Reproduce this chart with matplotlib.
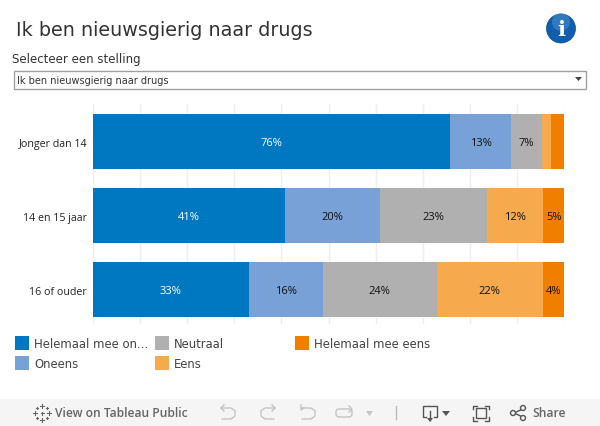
import matplotlib
matplotlib.use('Agg')
import matplotlib.pyplot as plt
import numpy as np
from matplotlib.patches import Rectangle, Circle, FancyBboxPatch

categories = ['Jonger dan 14', '14 en 15 jaar', '16 of ouder']
series_names = ['Helemaal mee on...', 'Oneens', 'Neutraal', 'Eens', 'Helemaal mee eens']
colors = ['#0078c1', '#78a2d7', '#b0b0b0', '#f7a94d', '#f07f00']
oneens_sterk = [75.8, 40.8, 33.1]
oneens = [13.0, 20.2, 15.7]
neutraal = [6.6, 22.7, 24.2]
eens = [1.9, 11.9, 22.5]
sterk_eens = [2.7, 4.6, 4.4]
grid_ticks = [0, 10, 20, 30, 40, 50, 60, 70, 80, 90, 100]

W, H = 600, 427
fig = plt.figure(figsize=(W / 100, H / 100), dpi=100)

# achtergrond in pixels
bg = fig.add_axes([0, 0, 1, 1])
bg.set_xlim(0, W)
bg.set_ylim(H, 0)
bg.axis('off')

# titel en keuzelijst
bg.text(16, 30, 'Ik ben nieuwsgierig naar drugs', fontsize=13.8, color='#333333', va='center',
        family='DejaVu Sans')
bg.text(12, 60, 'Selecteer een stelling', fontsize=8.5, color='#333333', va='center', family='DejaVu Sans')
bg.add_patch(Rectangle((13.5, 71.5), 572, 18, fc='white', ec='#a0a0a0', lw=1))
bg.text(17, 80.5, 'Ik ben nieuwsgierig naar drugs', fontsize=7, color='#333333', va='center',
        family='DejaVu Sans')
bg.fill([575, 582, 578.5], [78, 78, 82], color='#444444', lw=0)

# info icoon
bg.add_patch(Circle((561, 29.5), 14.5, fc='#0f5fae', ec='#0b4f96', lw=0.5))
bg.add_patch(Circle((561, 23), 9, fc='#5d9bd8', ec='none', alpha=0.45))
bg.text(561, 30, 'i', fontsize=15, fontweight='bold', color='white', ha='center', va='center',
        family='DejaVu Serif')

# grafiek
ax = fig.add_axes([93 / W, 1 - 325 / H, 471 / W, 220 / H])
ax.set_xlim(0, 100)
ax.set_ylim(325, 105)
for s in ax.spines.values():
    s.set_visible(False)
ax.set_xticks(grid_ticks)
ax.set_xticklabels([])
ax.tick_params(length=0)
ax.set_yticks([])
ax.grid(axis='x', color='#eeeeee', lw=1)
ax.set_axisbelow(True)

y_pos = np.array([141.5, 215.5, 289.5])
rows = [oneens_sterk, oneens, neutraal, eens, sterk_eens]
left = np.zeros(3)
for i, vals in enumerate(rows):
    vals = np.array(vals)
    ax.barh(y_pos + 0.5, vals, height=55, left=left, color=colors[i], lw=0)
    for j in range(3):
        if vals[j] >= 4:
            tc = 'white' if i == 0 else '#111111'
            ax.text(left[j] + vals[j] / 2, y_pos[j] + 2.5, '{}%'.format(int(round(vals[j]))), color=tc,
                    fontsize=8, ha='center', va='center', family='Open Sans')
    left = left + vals

for j, c in enumerate(categories):
    bg.text(87, y_pos[j] + 3.5, c, fontsize=7.7, color='#222222', ha='right', va='center', family='Open Sans')

# legenda
leg_x = [15, 155, 295, 15, 155]
leg_y = [337, 337, 337, 357, 357]
leg_order = [0, 2, 4, 1, 3]
for x, y, k in zip(leg_x, leg_y, leg_order):
    bg.add_patch(Rectangle((x, y), 14, 14, fc=colors[k], ec='none'))
    bg.text(x + 19, y + 8, series_names[k], fontsize=8.4, color='#444444', va='center', family='DejaVu Sans')

# werkbalk
bg.add_patch(Rectangle((0, 400), W, 27, fc='#f5f5f5', ec='none'))
bg.text(55, 414, 'View on Tableau Public', fontsize=8.7, color='#666666', va='center', family='Open Sans',
        fontweight='semibold')
bg.text(566, 414, 'Share', fontsize=8.7, color='#666666', ha='right', va='center', family='Open Sans',
        fontweight='semibold')

# tableau logo
for dx, dy, r in [(0, -7, 4), (0, 7, 4), (-7, 0, 4), (7, 0, 4), (-5, -5, 2), (5, -5, 2), (-5, 5, 2), (5, 5, 2), (0, 0, 3)]:
    bg.plot([42 + dx - r / 2, 42 + dx + r / 2], [414 + dy, 414 + dy], color='#666666', lw=0.8)
    bg.plot([42 + dx, 42 + dx], [414 + dy - r / 2, 414 + dy + r / 2], color='#666666', lw=0.8)

# undo, redo, revert, refresh
grey = '#c4c4c4'
bg.plot([221, 231, 235, 235, 231, 222], [409, 409, 412, 417, 420, 420], color=grey, lw=1)
bg.plot([224, 221, 224], [406, 409, 412], color=grey, lw=1)
bg.plot([275, 265, 261, 261, 265, 274], [409, 409, 412, 417, 420, 420], color=grey, lw=1)
bg.plot([272, 275, 272], [406, 409, 412], color=grey, lw=1)
bg.plot([301, 311, 315, 315, 311, 302], [409, 409, 412, 417, 420, 420], color=grey, lw=1)
bg.plot([301, 301, 304], [406, 411, 409], color=grey, lw=1)
bg.add_patch(FancyBboxPatch((336, 410), 16, 8, boxstyle='round,pad=0,rounding_size=3', fc='none', ec=grey, lw=1))
bg.plot([349, 352, 349], [407, 410, 413], color=grey, lw=1)
bg.fill([366, 373, 369.5], [412, 412, 417], color=grey, lw=0)
bg.plot([395.5, 395.5], [407, 420], color='#bbbbbb', lw=1)

# download
dk = '#555555'
bg.plot([426, 423, 423, 437, 437, 434], [418, 418, 406.5, 406.5, 418, 418], color=dk, lw=1)
bg.plot([430, 430], [412, 421], color=dk, lw=1)
bg.fill([427, 433, 430], [419, 419, 423], color=dk, lw=0)
bg.fill([442, 450, 446], [412, 412, 417], color=dk, lw=0)

# volledig scherm
bg.add_patch(Rectangle((476, 409), 10, 10, fc='none', ec=dk, lw=1))
for xs, ys in [([473, 473, 477], [410, 406.5, 406.5]), ([485, 489, 489], [406.5, 406.5, 410]),
               ([473, 473, 477], [418, 421.5, 421.5]), ([485, 489, 489], [421.5, 421.5, 418])]:
    bg.plot(xs, ys, color=dk, lw=1)

# delen
bg.plot([525, 514, 525], [409, 414, 419], color=dk, lw=1)
for cx, cy in [(523, 409), (513, 414), (523, 419)]:
    bg.add_patch(Circle((cx, cy), 2.5, fc='#f5f5f5', ec=dk, lw=1, zorder=3))

fig.savefig('out.png', dpi=100)
